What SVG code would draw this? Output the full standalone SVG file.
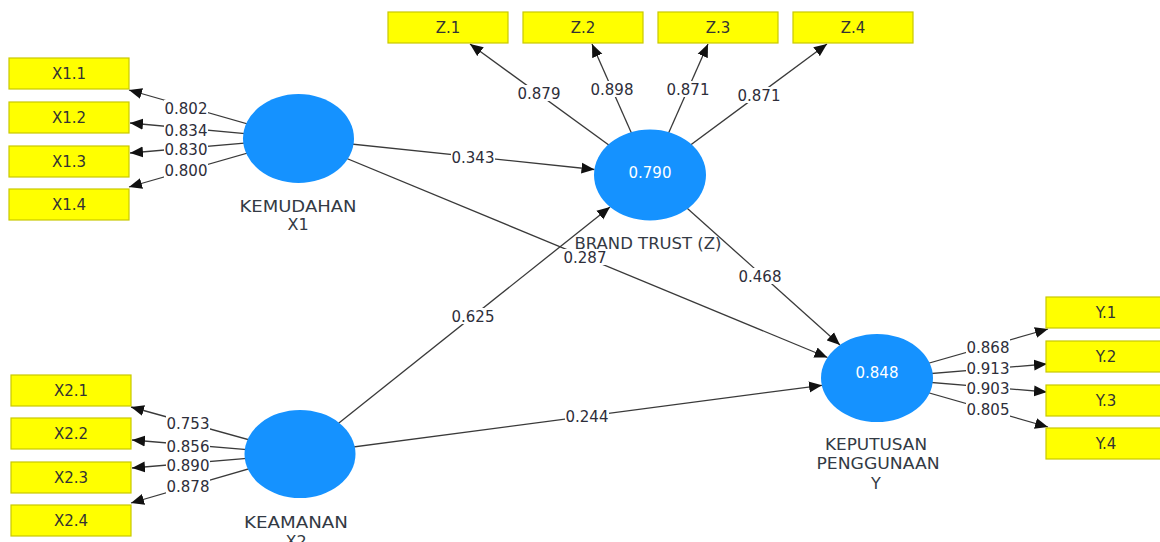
<svg xmlns="http://www.w3.org/2000/svg" width="1160" height="542" viewBox="0 0 1160 542">
<style>
.bg{fill:#ffffff}
.ln{stroke:#3a3a3a;stroke-width:1.3;fill:none;marker-end:url(#ah)}
.lb rect{fill:#ffffff}
.lb text{font-family:"DejaVu Sans",Verdana,sans-serif;font-size:15px;fill:#2e2e3a;text-anchor:middle}
.box{fill:#ffff00;stroke:#c9c900;stroke-width:1.2}
.bt{font-family:"DejaVu Sans",Verdana,sans-serif;font-size:15px;fill:#333333;text-anchor:middle}
.lv{fill:#1592ff}
.lvv{font-family:"DejaVu Sans",Verdana,sans-serif;font-size:15px;fill:#ffffff;text-anchor:middle}
.lvn{font-family:"DejaVu Sans",Verdana,sans-serif;font-size:16px;fill:#333a44;text-anchor:middle}
</style>
<defs>
<marker id="ah" markerUnits="userSpaceOnUse" markerWidth="14" markerHeight="12" refX="13" refY="6" orient="auto">
<path d="M0,0.5 L13,6 L0,11.5 z" fill="#111111"/>
</marker>
</defs>
<rect class="bg" x="0" y="0" width="1160" height="542"/>

<g id="connectors">
<!-- X1 loadings -->
<line class="ln" x1="298.5" y1="138.5" x2="129" y2="90"/>
<line class="ln" x1="298.5" y1="138.5" x2="130" y2="123"/>
<line class="ln" x1="298.5" y1="138.5" x2="130" y2="153"/>
<line class="ln" x1="298.5" y1="138.5" x2="129" y2="187"/>
<!-- X2 loadings -->
<line class="ln" x1="300" y1="454" x2="131" y2="407"/>
<line class="ln" x1="300" y1="454" x2="132" y2="440"/>
<line class="ln" x1="300" y1="454" x2="132" y2="468"/>
<line class="ln" x1="300" y1="454" x2="131" y2="503"/>
<!-- Z loadings -->
<line class="ln" x1="650" y1="175" x2="470" y2="44"/>
<line class="ln" x1="650" y1="175" x2="592" y2="44"/>
<line class="ln" x1="650" y1="175" x2="708" y2="44"/>
<line class="ln" x1="650" y1="175" x2="827" y2="44"/>
<!-- Y loadings -->
<line class="ln" x1="877" y1="378" x2="1048" y2="329"/>
<line class="ln" x1="877" y1="378" x2="1047" y2="364"/>
<line class="ln" x1="877" y1="378" x2="1047" y2="392"/>
<line class="ln" x1="877" y1="378" x2="1048" y2="427"/>
<!-- paths -->
<line class="ln" x1="298.5" y1="138.5" x2="594.5" y2="169.5"/>
<line class="ln" x1="300" y1="454" x2="610" y2="207"/>
<line class="ln" x1="298.5" y1="138.5" x2="827.5" y2="357.5"/>
<line class="ln" x1="650" y1="175" x2="840" y2="345"/>
<line class="ln" x1="300" y1="454" x2="822" y2="385.3"/>

<g class="lb">
<rect x="164" y="100" width="44" height="16"/><text x="186" y="113.5">0.802</text>
<rect x="164" y="122" width="44" height="16"/><text x="186" y="135.5">0.834</text>
<rect x="164" y="141" width="44" height="16"/><text x="186" y="154.5">0.830</text>
<rect x="164" y="162" width="44" height="16"/><text x="186" y="175.5">0.800</text>

<rect x="166" y="415" width="44" height="16"/><text x="188" y="428.5">0.753</text>
<rect x="166" y="438" width="44" height="16"/><text x="188" y="451.5">0.856</text>
<rect x="166" y="457" width="44" height="16"/><text x="188" y="470.5">0.890</text>
<rect x="166" y="478" width="44" height="16"/><text x="188" y="491.5">0.878</text>

<rect x="966" y="339" width="44" height="16"/><text x="988" y="352.5">0.868</text>
<rect x="966" y="360" width="44" height="16"/><text x="988" y="373.5">0.913</text>
<rect x="966" y="380" width="44" height="16"/><text x="988" y="393.5">0.903</text>
<rect x="966" y="401" width="44" height="16"/><text x="988" y="414.5">0.805</text>

<rect x="517" y="85" width="44" height="16"/><text x="539" y="98.5">0.879</text>
<rect x="590" y="81" width="44" height="16"/><text x="612" y="94.5">0.898</text>
<rect x="666" y="81" width="44" height="16"/><text x="688" y="94.5">0.871</text>
<rect x="737" y="87" width="44" height="16"/><text x="759" y="100.5">0.871</text>

<rect x="451" y="149" width="44" height="16"/><text x="473" y="162.5">0.343</text>
<rect x="451" y="308" width="44" height="16"/><text x="473" y="321.5">0.625</text>
<rect x="563" y="249" width="44" height="16"/><text x="585" y="262.5">0.287</text>
<rect x="738" y="268" width="44" height="16"/><text x="760" y="281.5">0.468</text>
<rect x="565" y="408" width="44" height="16"/><text x="587" y="421.5">0.244</text>
</g>
</g>

<g id="X1.1"><rect class="box" x="9" y="58" width="120" height="31"/><text class="bt" x="69" y="79">X1.1</text></g>
<g id="X1.2"><rect class="box" x="9" y="102" width="120" height="31"/><text class="bt" x="69" y="123">X1.2</text></g>
<g id="X1.3"><rect class="box" x="9" y="146" width="120" height="31"/><text class="bt" x="69" y="167">X1.3</text></g>
<g id="X1.4"><rect class="box" x="9" y="189" width="120" height="31"/><text class="bt" x="69" y="210">X1.4</text></g>

<g id="X2.1"><rect class="box" x="11" y="375" width="120" height="31"/><text class="bt" x="71" y="396">X2.1</text></g>
<g id="X2.2"><rect class="box" x="11" y="418" width="120" height="31"/><text class="bt" x="71" y="439">X2.2</text></g>
<g id="X2.3"><rect class="box" x="11" y="462" width="120" height="31"/><text class="bt" x="71" y="483">X2.3</text></g>
<g id="X2.4"><rect class="box" x="11" y="505" width="120" height="31"/><text class="bt" x="71" y="526">X2.4</text></g>

<g id="Z.1"><rect class="box" x="388" y="12" width="120" height="31"/><text class="bt" x="448" y="33">Z.1</text></g>
<g id="Z.2"><rect class="box" x="523" y="12" width="120" height="31"/><text class="bt" x="583" y="33">Z.2</text></g>
<g id="Z.3"><rect class="box" x="658" y="12" width="120" height="31"/><text class="bt" x="718" y="33">Z.3</text></g>
<g id="Z.4"><rect class="box" x="793" y="12" width="120" height="31"/><text class="bt" x="853" y="33">Z.4</text></g>

<g id="Y.1"><rect class="box" x="1046" y="297" width="120" height="31"/><text class="bt" x="1106" y="318">Y.1</text></g>
<g id="Y.2"><rect class="box" x="1046" y="341" width="120" height="31"/><text class="bt" x="1106" y="362">Y.2</text></g>
<g id="Y.3"><rect class="box" x="1046" y="385" width="120" height="31"/><text class="bt" x="1106" y="406">Y.3</text></g>
<g id="Y.4"><rect class="box" x="1046" y="428" width="120" height="31"/><text class="bt" x="1106" y="449">Y.4</text></g>

<g id="KEMUDAHAN">
<ellipse class="lv" cx="298.5" cy="138.5" rx="55.5" ry="44.5"/>
<text class="lvn" x="298" y="212" textLength="117" lengthAdjust="spacingAndGlyphs">KEMUDAHAN</text>
<text class="lvn" x="298" y="230">X1</text>
</g>

<g id="KEAMANAN">
<ellipse class="lv" cx="300" cy="454" rx="55.5" ry="44"/>
<text class="lvn" x="296" y="528" textLength="104" lengthAdjust="spacingAndGlyphs">KEAMANAN</text>
<text class="lvn" x="296" y="547">X2</text>
</g>

<g id="BRAND_TRUST">
<ellipse class="lv" cx="650" cy="175" rx="56" ry="45.5"/>
<text class="lvv" x="650" y="177.5">0.790</text>
<text class="lvn" x="648" y="249" textLength="147" lengthAdjust="spacingAndGlyphs">BRAND TRUST (Z)</text>
</g>

<g id="KEPUTUSAN">
<ellipse class="lv" cx="877" cy="378" rx="56" ry="44"/>
<text class="lvv" x="877" y="377.5">0.848</text>
<text class="lvn" x="876" y="450" textLength="102" lengthAdjust="spacingAndGlyphs">KEPUTUSAN</text>
<text class="lvn" x="878" y="469" textLength="123" lengthAdjust="spacingAndGlyphs">PENGGUNAAN</text>
<text class="lvn" x="876" y="489">Y</text>
</g>
</svg>
